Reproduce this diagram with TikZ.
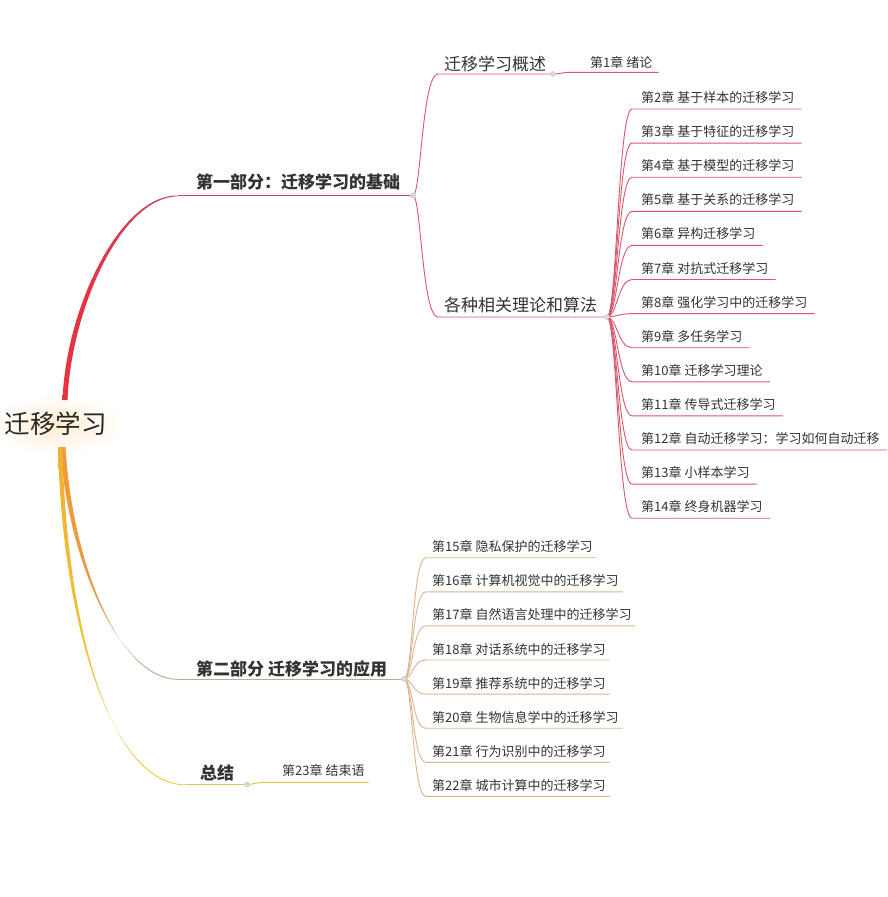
\documentclass[tikz,border=0pt]{standalone}
\usepackage{fontspec}
\setmainfont{Noto Sans CJK SC}
\definecolor{redA}{HTML}{E8323F}
\definecolor{redB}{HTML}{C8465A}
\definecolor{redThin}{HTML}{D9566B}
\definecolor{orA}{HTML}{F09A38}
\definecolor{orB}{HTML}{C9A58A}
\definecolor{orThin}{HTML}{DDB48C}
\definecolor{yeA}{HTML}{F5D22A}
\definecolor{yeB}{HTML}{D8C060}
\definecolor{txt}{HTML}{333333}
\definecolor{juncgray}{HTML}{DADADA}
\begin{document}
\begin{tikzpicture}[x=1pt,y=-1pt,
  chap/.style={anchor=base west, inner sep=0pt, font=\fontsize{13}{13}\selectfont, text=txt},
  subt/.style={anchor=base west, inner sep=0pt, font=\fontsize{17}{17}\selectfont, text=txt},
  partt/.style={anchor=base west, inner sep=0pt, font=\fontsize{17}{17}\selectfont\bfseries, text=txt},
  junc/.style={circle, fill=juncgray, draw=gray!45, line width=0.5pt, inner sep=0pt, minimum size=5pt},
  redline/.style={draw=redThin, line width=0.9pt},
  orline/.style={draw=orThin, line width=0.9pt},
  yeline/.style={draw=yeB!80!yeA, line width=0.9pt}]
\useasboundingbox (0,0) rectangle (888,897);
\fill[white] (0,0) rectangle (888,897);

% root glow and text
\shade[inner color=yellow!22!orange!18, outer color=white] (57,425) ellipse (68 and 30);
\node[inner sep=0pt, font=\fontsize{25.5}{25.5}\selectfont, text=black!85] (root) at (56,424) {迁移学习};

% main branch coordinates
\coordinate (p1s) at (178,195.5);
\coordinate (p2s) at (178,679);
\coordinate (p3s) at (186,784.5);

% main tapered curves
\shade[bottom color=redA, top color=redB, middle color=redA!90!redB]
  (62.5,400) .. controls (66,308) and (120,194.5) .. (p1s)
  -- (178,196.3) .. controls (120,197.2) and (71,312) .. (67.5,400) -- cycle;
\shade[top color=orA, bottom color=orB, middle color=orA!85!orB]
  (60.5,447) .. controls (67,560) and (120,678.6) .. (p2s)
  -- (178,679.8) .. controls (118,679.8) and (72,560) .. (65.5,447) -- cycle;
\shade[top color=orA!60!yeA, bottom color=yeA!85!orB]
  (58,447) .. controls (62,620) and (110,784) .. (p3s)
  -- (186,785.2) .. controls (108,785.4) and (66,620) .. (62.5,447) -- cycle;

% junctions
\coordinate (j1) at (413,195.5);
\coordinate (j2) at (404,679);
\coordinate (j3) at (247,784.5);
\coordinate (j11) at (553,74);
\coordinate (j12) at (607,317);

% part labels and underlines
\node[partt] (part1) at (196,188.5) {第一部分：迁移学习的基础};
\node[partt] (part2) at (196,675) {第二部分 迁移学习的应用};
\node[partt] (part3) at (200,779) {总结};
\draw[draw=redB, line width=0.9pt] (p1s) -- (j1);
\draw[draw=orB, line width=0.9pt] (p2s) -- (j2);
\draw[yeline] (p3s) -- (j3);

% part 1 sub-branches
\node[subt] (s1) at (444,70.5) {迁移学习概述};
\node[subt] (s2) at (444,311) {各种相关理论和算法};
\draw[redline] (j1) .. controls (421,195.5) and (422,74) .. (438,74) -- (j11);
\draw[redline] (j1) .. controls (421,195.5) and (422,317) .. (438,317) -- (j12);

% chapter 1
\node[chap] (c1) at (590,67) {第1章 绪论};
\draw[redline] (j11) .. controls (560,74) and (562,72.3) .. (572,72.3) -- (c1.east |- 0,72.3) -- ++(6,0);

% chapters 2-14
\foreach \k/\t in {2/第2章 基于样本的迁移学习,3/第3章 基于特征的迁移学习,4/第4章 基于模型的迁移学习,5/第5章 基于关系的迁移学习,6/第6章 异构迁移学习,7/第7章 对抗式迁移学习,8/第8章 强化学习中的迁移学习,9/第9章 多任务学习,10/第10章 迁移学习理论,11/第11章 传导式迁移学习,12/第12章 自动迁移学习：学习如何自动迁移,13/第13章 小样本学习,14/第14章 终身机器学习}{
  \pgfmathsetmacro{\uy}{109+34.1*(\k-2)}
  \node[chap] (c\k) at (641,\uy-6.5) {\t};
  \draw[redline] (j12) .. controls (617,317) and (618,\uy) .. (632,\uy) -- (c\k.east |- 0,\uy) -- ++(7,0);
}

% chapters 15-22
\foreach \k/\t in {15/第15章 隐私保护的迁移学习,16/第16章 计算机视觉中的迁移学习,17/第17章 自然语言处理中的迁移学习,18/第18章 对话系统中的迁移学习,19/第19章 推荐系统中的迁移学习,20/第20章 生物信息学中的迁移学习,21/第21章 行为识别中的迁移学习,22/第22章 城市计算中的迁移学习}{
  \pgfmathsetmacro{\uy}{557.7+34.1*(\k-15)}
  \node[chap] (c\k) at (432,\uy-6) {\t};
  \draw[orline] (j2) .. controls (413,679) and (412,\uy) .. (426,\uy) -- (c\k.east |- 0,\uy) -- ++(4,0);
}

% chapter 23
\node[chap] (c23) at (282,775.5) {第23章 结束语};
\draw[yeline] (j3) .. controls (254,784.5) and (256,782.3) .. (264,782.3) -- (c23.east |- 0,782.3) -- ++(4,0);

% junction markers
\foreach \j in {j1,j2,j3,j11,j12}{
  \node[junc] at (\j) {};
}
\end{tikzpicture}
\end{document}
